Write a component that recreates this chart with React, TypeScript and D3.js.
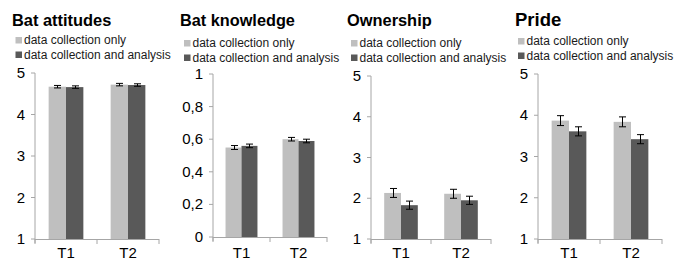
import { useEffect, useRef } from "react";
import * as d3 from "d3";

const times = ["T1", "T2"];
const seriesNames = ["data collection only", "data collection and analysis"];
const seriesColors = ["#bfbfbf", "#595959"];

const attitudesOnly = [4.67, 4.72];
const attitudesAnalysis = [4.66, 4.71];
const attitudesOnlyErr = [0.03, 0.03];
const attitudesAnalysisErr = [0.03, 0.03];

const knowledgeOnly = [0.549, 0.6];
const knowledgeAnalysis = [0.559, 0.589];
const knowledgeOnlyErr = [0.012, 0.011];
const knowledgeAnalysisErr = [0.011, 0.011];

const ownershipOnly = [2.13, 2.11];
const ownershipAnalysis = [1.83, 1.95];
const ownershipOnlyErr = [0.11, 0.11];
const ownershipAnalysisErr = [0.1, 0.1];

const prideOnly = [3.87, 3.84];
const prideAnalysis = [3.61, 3.42];
const prideOnlyErr = [0.12, 0.12];
const prideAnalysisErr = [0.11, 0.11];

const scaleTicks15 = [1, 2, 3, 4, 5];
const scaleTicks01 = [0, 0.2, 0.4, 0.6, 0.8, 1];

interface Panel {
  title: string;
  only: number[];
  analysis: number[];
  onlyErr: number[];
  analysisErr: number[];
  domain: [number, number];
  ticks: number[];
  // layout
  titleX: number;
  titleSize: number;
  legendX: number;
  legendY: number;
  x0: number;
  x1: number;
  yTop: number;
  yBottom: number;
}

const panels: Panel[] = [
  {
    title: "Bat attitudes",
    only: attitudesOnly,
    analysis: attitudesAnalysis,
    onlyErr: attitudesOnlyErr,
    analysisErr: attitudesAnalysisErr,
    domain: [1, 5],
    ticks: scaleTicks15,
    titleX: 12, titleSize: 16.4, legendX: 15.5, legendY: 44,
    x0: 35, x1: 159, yTop: 73, yBottom: 239,
  },
  {
    title: "Bat knowledge",
    only: knowledgeOnly,
    analysis: knowledgeAnalysis,
    onlyErr: knowledgeOnlyErr,
    analysisErr: knowledgeAnalysisErr,
    domain: [0, 1],
    ticks: scaleTicks01,
    titleX: 180, titleSize: 16.3, legendX: 184, legendY: 47,
    x0: 213, x1: 327, yTop: 74, yBottom: 237,
  },
  {
    title: "Ownership",
    only: ownershipOnly,
    analysis: ownershipAnalysis,
    onlyErr: ownershipOnlyErr,
    analysisErr: ownershipAnalysisErr,
    domain: [1, 5],
    ticks: scaleTicks15,
    titleX: 347, titleSize: 16.4, legendX: 351, legendY: 47,
    x0: 371, x1: 491, yTop: 76, yBottom: 239,
  },
  {
    title: "Pride",
    only: prideOnly,
    analysis: prideAnalysis,
    onlyErr: prideOnlyErr,
    analysisErr: prideAnalysisErr,
    domain: [1, 5],
    ticks: scaleTicks15,
    titleX: 515, titleSize: 18.5, legendX: 518, legendY: 45,
    x0: 538, x1: 662, yTop: 74, yBottom: 239,
  },
];

const FONT = "'Liberation Sans', Arial, sans-serif";
const AXIS = "#a6a6a6";
const fmt = d3.formatLocale({ decimal: ",", thousands: ".", grouping: [3], currency: ["", ""] }).format("~g");

function App() {
  const svgRef = useRef<SVGSVGElement | null>(null);

  useEffect(() => {
    if (!svgRef.current) return;
    const svg = d3.select(svgRef.current);
    svg.selectAll("*").remove();

    panels.forEach((p) => {
      const g = svg.append("g").attr("font-family", FONT);

      g.append("text")
        .attr("x", p.titleX)
        .attr("y", 26)
        .attr("font-size", p.titleSize)
        .attr("font-weight", "bold")
        .attr("fill", "#000")
        .text(p.title);

      // legend
      const sq = 6.5;
      seriesNames.forEach((name, i) => {
        const ly = p.legendY + i * 14.5;
        g.append("rect")
          .attr("x", p.legendX)
          .attr("y", ly - sq - 0.5)
          .attr("width", sq)
          .attr("height", sq)
          .attr("fill", seriesColors[i]);
        g.append("text")
          .attr("x", p.legendX + sq + 2)
          .attr("y", ly)
          .attr("font-size", 12)
          .attr("fill", "#1a1a1a")
          .text(name);
      });

      const y = d3.scaleLinear().domain(p.domain).range([p.yBottom, p.yTop]);
      const x = d3.scaleBand<string>().domain(times).range([p.x0, p.x1]);
      const bw = x.bandwidth();
      const inner = d3
        .scaleBand<number>()
        .domain([0, 1])
        .range([bw * 0.22, bw * 0.78]);

      // y axis
      g.append("line")
        .attr("x1", p.x0).attr("x2", p.x0)
        .attr("y1", p.yTop).attr("y2", p.yBottom + 4)
        .attr("stroke", AXIS);
      p.ticks.forEach((t) => {
        g.append("line")
          .attr("x1", p.x0 - 4).attr("x2", p.x0)
          .attr("y1", y(t)).attr("y2", y(t))
          .attr("stroke", AXIS);
        g.append("text")
          .attr("x", p.x0 - 10)
          .attr("y", y(t) + 5)
          .attr("text-anchor", "end")
          .attr("font-size", 15)
          .attr("fill", "#000")
          .text(fmt(t));
      });

      // bars
      times.forEach((tm, ti) => {
        const vals = [p.only[ti], p.analysis[ti]];
        const errs = [p.onlyErr[ti], p.analysisErr[ti]];
        vals.forEach((v, si) => {
          const bx = (x(tm) as number) + (inner(si) as number);
          const w = inner.bandwidth();
          g.append("rect")
            .attr("x", bx)
            .attr("y", y(v))
            .attr("width", w)
            .attr("height", p.yBottom - y(v))
            .attr("fill", seriesColors[si]);
          const cx = Math.round(bx + w / 2) + 0.5;
          const hi = y(v + errs[si]);
          const lo = y(v - errs[si]);
          g.append("line")
            .attr("x1", cx).attr("x2", cx)
            .attr("y1", hi).attr("y2", lo)
            .attr("stroke", "#000");
          [hi, lo].forEach((yy) => {
            g.append("line")
              .attr("x1", cx - 3.5).attr("x2", cx + 3.5)
              .attr("y1", yy).attr("y2", yy)
              .attr("stroke", "#000");
          });
        });
      });

      // x axis
      g.append("line")
        .attr("x1", p.x0).attr("x2", p.x1)
        .attr("y1", p.yBottom + 0.5).attr("y2", p.yBottom + 0.5)
        .attr("stroke", AXIS);
      [p.x0, ...times.map((t) => (x(t) as number) + bw)].forEach((tx) => {
        g.append("line")
          .attr("x1", tx).attr("x2", tx)
          .attr("y1", p.yBottom).attr("y2", p.yBottom + 5)
          .attr("stroke", AXIS);
      });
      times.forEach((tm) => {
        g.append("text")
          .attr("x", (x(tm) as number) + bw / 2)
          .attr("y", 258)
          .attr("text-anchor", "middle")
          .attr("font-size", 15)
          .attr("fill", "#000")
          .text(tm);
      });
    });
  }, []);

  return (
    <svg
      ref={svgRef}
      width={688}
      height={267}
      style={{ position: "absolute", left: 0, top: 0, background: "#fff" }}
    />
  );
}

export default App;
